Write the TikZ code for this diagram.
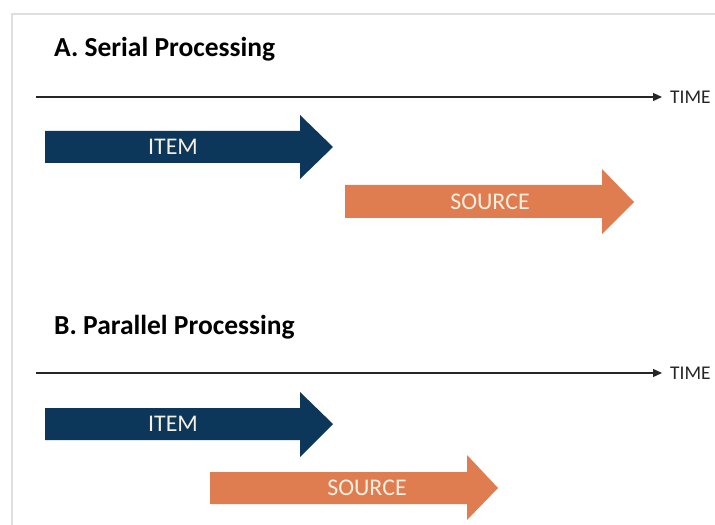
\documentclass[tikz,border=0pt]{standalone}
\usepackage{fontspec}
\setmainfont{Carlito}
\usetikzlibrary{arrows.meta}
\definecolor{navy}{RGB}{12,54,90}
\definecolor{tangerine}{RGB}{223,125,81}
\definecolor{cream}{RGB}{246,240,226}
\definecolor{framegray}{RGB}{222,222,222}
\tikzset{
  title/.style={anchor=base west, inner sep=0pt, font=\fontsize{27.6}{31}\selectfont\bfseries},
  barlabel/.style={text=cream, inner sep=0pt, font=\fontsize{24}{27}\selectfont},
  timelabel/.style={anchor=west, inner sep=4bp, text=black!85, font=\fontsize{19.5}{22}\selectfont},
  timeaxis/.style={line width=1.2bp, black!85, -{Triangle[length=9bp,width=8bp]}, shorten >=4bp},
}
\begin{document}
\begin{tikzpicture}[x=1bp, y=-1bp]
  \useasboundingbox (0,0) rectangle (715,525);
  \fill[white] (0,0) rectangle (715,525);
  % thin frame along the top and left
  \draw[framegray, line width=1.2bp] (12,525) -- (12,14) -- (715,14);

  % ---- A. Serial processing ----
  \node[title] (titleA) at (54,57) {A. Serial Processing};
  \coordinate (axisA) at (36,97);
  \node[timelabel] (timeA) at (666,97) {TIME};
  \draw[timeaxis] (axisA) -- (timeA.west);

  \fill[navy] (45,131) -- (300,131) -- (300,115) -- (333,147) -- (300,179)
              -- (300,163) -- (45,163) -- cycle;
  \node[barlabel] (itemA) at (173,147) {ITEM};

  \fill[tangerine] (345,185) -- (602,185) -- (602,169) -- (634,202) -- (602,234)
                   -- (602,218) -- (345,218) -- cycle;
  \node[barlabel] (sourceA) at (490,202) {SOURCE};

  % ---- B. Parallel processing ----
  \node[title] (titleB) at (54,334) {B. Parallel Processing};
  \coordinate (axisB) at (36,373);
  \node[timelabel] (timeB) at (666,373) {TIME};
  \draw[timeaxis] (axisB) -- (timeB.west);

  \fill[navy] (45,408) -- (300,408) -- (300,392) -- (333,424) -- (300,457)
              -- (300,440) -- (45,440) -- cycle;
  \node[barlabel] (itemB) at (173,424) {ITEM};

  \fill[tangerine] (210,472) -- (467,472) -- (467,455) -- (498,488) -- (467,520)
                   -- (467,504) -- (210,504) -- cycle;
  \node[barlabel] (sourceB) at (367,488) {SOURCE};
\end{tikzpicture}
\end{document}
